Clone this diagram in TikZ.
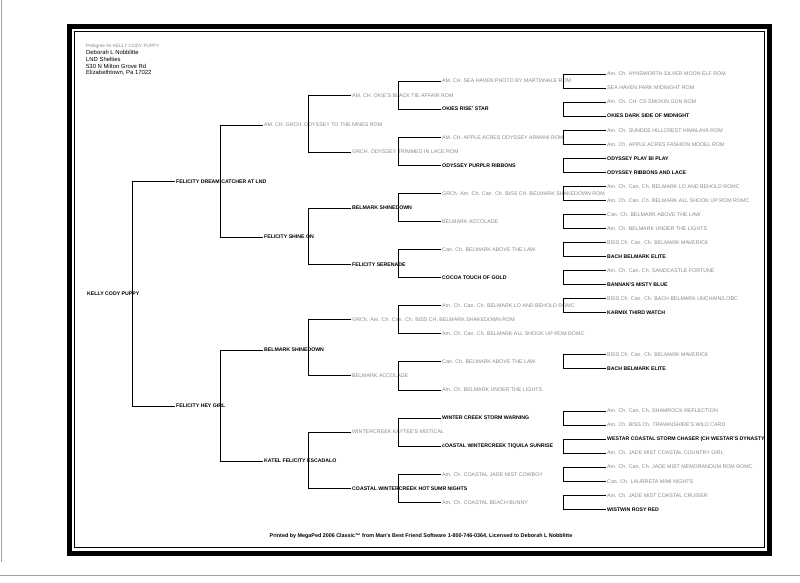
\documentclass[tikz,border=0pt]{standalone}
\usepackage{fontspec}
\setmainfont{Liberation Sans}
\usepackage{xcolor}
\definecolor{fadegray}{RGB}{135,135,135}
\definecolor{scanedge}{RGB}{160,160,160}
\begin{document}
\begin{tikzpicture}[
        x=1pt, y=-1pt,
        named/.style={anchor=west, inner sep=1pt, text height=3.7pt, text depth=0pt, font=\fontsize{5.2}{6}\selectfont\bfseries, text=black},
        titled/.style={named, font=\fontsize{5.3}{6}\selectfont, text=fadegray},
        pedline/.style={line width=0.7pt, draw=black},
        frameline/.style={line width=5pt, draw=black}
    ]
    \useasboundingbox (0,0) rectangle (800,582);

    % Page frame and scan edges
    \draw[frameline] (69.5,26) rectangle (769.5,553.5);
    \draw[line width=1pt] (74.5,31) rectangle (764,547.5);
    \draw[scanedge, line width=0.8pt] (1.5,0) -- (1.5,562);
    \draw[scanedge, line width=0.8pt] (0,575) -- (800,575);

    % Header
    \node[anchor=west, inner sep=0pt, font=\fontsize{4.7}{5}\selectfont, text=fadegray] (heading) at (86,46) {Pedigree for KELLY CODY PUPPY};
    \node[anchor=north west, inner sep=0pt, align=left, font=\fontsize{5.9}{6.6}\selectfont] (owner) at (86,50.5) {Deborah L Nobblitte\\ LND Shelties\\ 530 N Milton Grove Rd\\ Elizabethtown, Pa 17022};

    % Generation 1 and 2
    \node[named] (kelly) at (86,294) {KELLY CODY PUPPY};
    \node[named] (s) at (175,181.5) {FELICITY DREAM CATCHER AT LND};
    \node[named] (d) at (175,406) {FELICITY HEY GIRL};

    % Generation 3
    \node[titled] (ss) at (263,125) {AM. CH. GRCH. ODYSSEY TO THE NINES ROM};
    \node[named] (sd) at (263,237) {FELICITY SHINE ON};
    \node[named] (ds) at (263,350) {BELMARK SHINEDOWN};
    \node[named] (dd) at (263,461) {KATEL FELICITY ESCADALO};

    % Generation 4
    \node[titled] (sss) at (351,95.5) {AM. CH. OKIE'S BLACK TIE AFFAIR ROM};
    \node[titled] (ssd) at (351,152) {GRCH. ODYSSEY TRIMMED IN LACE ROM};
    \node[named] (sds) at (351,208) {BELMARK SHINEDOWN};
    \node[named] (sdd) at (351,264.5) {FELICITY SERENADE};
    \node[titled] (dss) at (351,319.5) {GRCh. Am. Ch. Can. Ch. BISS CH. BELMARK SHAKEDOWN ROM};
    \node[titled] (dsd) at (351,375.8) {BELMARK ACCOLADE};
    \node[titled] (dds) at (351,432) {WINTERCREEK KAYTEE'S MISTICAL};
    \node[named] (ddd) at (351,488.5) {COASTAL WINTERCREEK HOT SUMR NIGHTS};

    % Generation 5
    \node[titled] (ssss) at (441,81) {AM. CH. SEA HAVEN PHOTO BY MARTINVALE ROM};
    \node[named] (sssd) at (441,109.1) {OKIES RISE' STAR};
    \node[titled] (ssds) at (441,137.2) {AM. CH. APPLE ACRES ODYSSEY ARMANI ROM};
    \node[named] (ssdd) at (441,165.2) {ODYSSEY PURPLR RIBBONS};
    \node[titled] (sdss) at (441,193.4) {GRCh. Am. Ch. Can. Ch. BISS CH. BELMARK SHAKEDOWN ROM};
    \node[titled] (sdsd) at (441,221.4) {BELMARK ACCOLADE};
    \node[titled] (sdds) at (441,249.5) {Can. Ch. BELMARK ABOVE THE LAW};
    \node[named] (sddd) at (441,277.6) {COCOA TOUCH OF GOLD};
    \node[titled] (dsss) at (441,305.7) {Am. Ch. Can. Ch. BELMARK LO AND BEHOLD ROMC};
    \node[titled] (dssd) at (441,333.8) {Am. Ch. Can. Ch. BELMARK ALL SHOOK UP ROM ROMC};
    \node[titled] (dsds) at (441,361.8) {Can. Ch. BELMARK ABOVE THE LAW};
    \node[titled] (dsdd) at (441,389.9) {Am. Ch. BELMARK UNDER THE LIGHTS};
    \node[named] (ddss) at (441,418) {WINTER CREEK STORM WARNING};
    \node[named] (ddsd) at (441,446.1) {cOASTAL WINTERCREEK TIQUILA SUNRISE};
    \node[titled] (ddds) at (441,474.2) {Am. Ch. COASTAL JADE MIST COWBOY};
    \node[titled] (dddd) at (441,502.2) {Am. Ch. COASTAL BEACH BUNNY};

    % Generation 6
    \node[titled] (sssss) at (606,74) {Am. Ch. AYNSWORTH SILVER MOON ELF ROM};
    \node[titled] (ssssd) at (606,88) {SEA HAVEN PARK MIDNIGHT ROM};
    \node[titled] (sssds) at (606,102.1) {Am. Ch. CH. CS SMOKIN GUN ROM};
    \node[named] (sssdd) at (606,116.1) {OKIES DARK SIDE OF MIDNIGHT};
    \node[titled] (ssdss) at (606,130.2) {Am. Ch. SUNDEE HILLCREST HIMALAYA ROM};
    \node[titled] (ssdsd) at (606,144.2) {Am. Ch. APPLE ACRES FASHION MODEL ROM};
    \node[named] (ssdds) at (606,158.2) {ODYSSEY PLAY BI PLAY};
    \node[named] (ssddd) at (606,172.3) {ODYSSEY RIBBONS AND LACE};
    \node[titled] (sdsss) at (606,186.3) {Am. Ch. Can. Ch. BELMARK LO AND BEHOLD ROMC};
    \node[titled] (sdssd) at (606,200.4) {Am. Ch. Can. Ch. BELMARK ALL SHOOK UP ROM ROMC};
    \node[titled] (sdsds) at (606,214.4) {Can. Ch. BELMARK ABOVE THE LAW};
    \node[titled] (sdsdd) at (606,228.4) {Am. Ch. BELMARK UNDER THE LIGHTS};
    \node[titled] (sddss) at (606,242.5) {BISS Ch. Can. Ch. BELMARK MAVERICK};
    \node[named] (sddsd) at (606,256.5) {BACH BELMARK ELITE};
    \node[titled] (sddds) at (606,270.6) {Am. Ch. Can. Ch. SANDCASTLE FORTUNE};
    \node[named] (sdddd) at (606,284.6) {BANNAN'S MISTY BLUE};
    \node[titled] (dssss) at (606,298.6) {BISS Ch. Can. Ch. BACH BELMARK UNCHAINS OBC};
    \node[named] (dsssd) at (606,312.7) {KARMIX THIRD WATCH};
    \node[titled] (dsdss) at (606,354.8) {BISS Ch. Can. Ch. BELMARK MAVERICK};
    \node[named] (dsdsd) at (606,368.8) {BACH BELMARK ELITE};
    \node[titled] (ddsss) at (606,411) {Am. Ch. Can. Ch. SHAMROCK REFLECTION};
    \node[titled] (ddssd) at (606,425) {Am. Ch. BISS Ch. TRAVANSHIRE'S WILD CARD};
    \node[named] (ddsds) at (606,439) {WESTAR COASTAL STORM CHASER (CH WESTAR'S DYNASTY};
    \node[titled] (ddsdd) at (606,453.1) {Am. Ch. JADE MIST COASTAL COUNTRY GIRL};
    \node[titled] (dddss) at (606,467.1) {Am. Ch. Can. Ch. JADE MIST MEMORANDUM ROM ROMC};
    \node[titled] (dddsd) at (606,481.2) {Can. Ch. LAURRETA MIMI NIGHTS};
    \node[titled] (dddds) at (606,495.2) {Am. Ch. JADE MIST COASTAL CRUISER};
    \node[named] (ddddd) at (606,509.2) {WISTWIN ROSY RED};

    % Brackets: sire line and dam line joined
    \draw[pedline] (s.west) -- ++(-43,0) |- (d.west);
    \foreach \p in {s,d,ss,sd,ds,dd,sss,ssd,sds,sdd,dss,dsd,dds,ddd,ssss,sssd,ssds,ssdd,sdss,sdsd,sdds,sddd,dsss,dsds,ddss,ddsd,ddds,dddd}
        \draw[pedline] (\p s.west) -- ++(-43,0) |- (\p d.west);

    % Footer
    \node[font=\fontsize{5.4}{6}\selectfont\bfseries, inner sep=0pt] (printed) at (421,536) {Printed by MegaPed 2006 Classic\texttrademark\ from Man's Best Friend Software 1-800-746-0364, Licensed to Deborah L Nobblitte};

\end{tikzpicture}
\end{document}
